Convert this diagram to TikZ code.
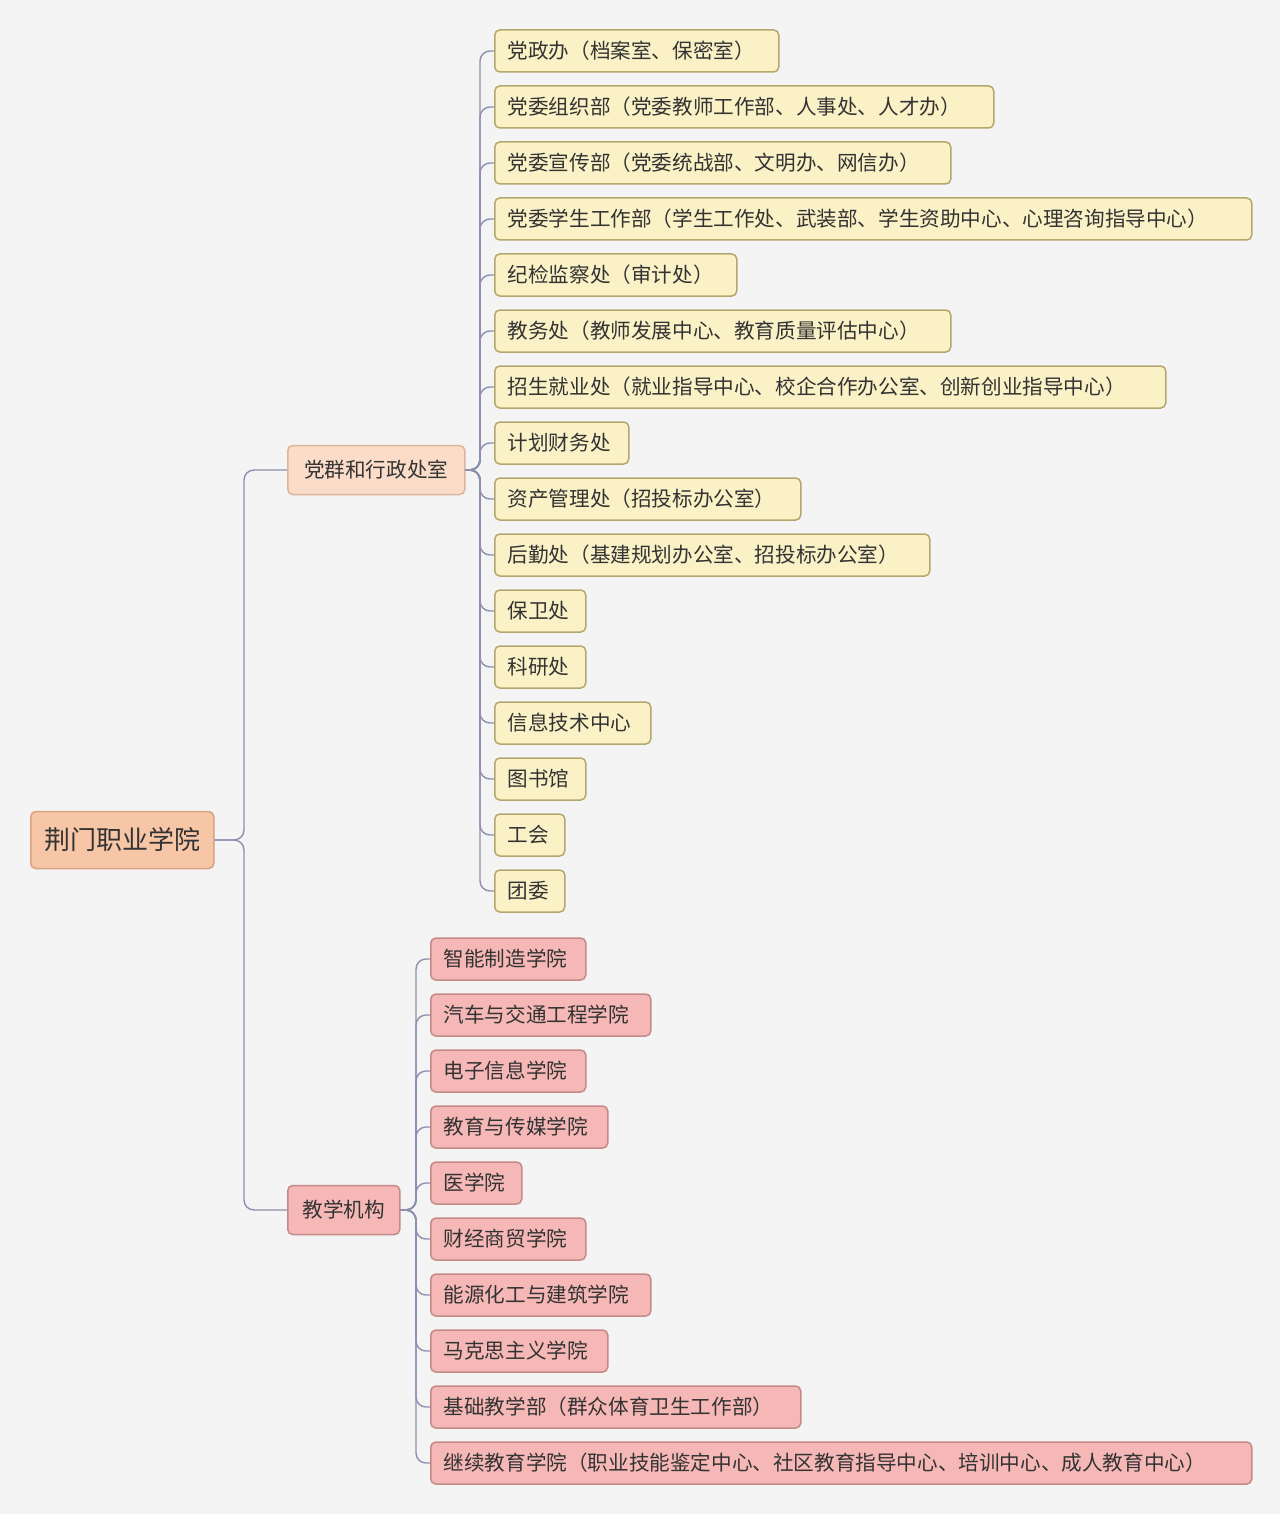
\documentclass[tikz,border=0pt]{standalone}
\usepackage{fontspec}
\setmainfont{Noto Sans CJK SC}
\definecolor{bg}{HTML}{F4F4F4}
\definecolor{yfill}{HTML}{FBF1C6}
\definecolor{ydraw}{HTML}{B5A66E}
\definecolor{pfill}{HTML}{F5B8B6}
\definecolor{pdraw}{HTML}{C48A88}
\definecolor{rfill}{HTML}{F7C6A6}
\definecolor{rdraw}{HTML}{D9A283}
\definecolor{ofill}{HTML}{FADCC8}
\definecolor{odraw}{HTML}{DDB59C}
\definecolor{conn}{HTML}{8C90AE}
\definecolor{txt}{HTML}{333333}
\tikzset{
  base/.style={rounded corners=2.5pt, line width=0.75pt, minimum height=21pt, inner ysep=0pt, inner xsep=6.5pt, anchor=west, align=left, font=\fontsize{10.3}{12}\selectfont, text=txt},
  ybox/.style={base, fill=yfill, draw=ydraw},
  pbox/.style={base, fill=pfill, draw=pdraw},
  link/.style={draw=conn, line width=0.7pt, rounded corners=5pt}
}
\begin{document}
\begin{tikzpicture}[x=0.5pt,y=-0.5pt]
\fill[bg] (0,0) rectangle (1280,1514);
\useasboundingbox (0,0) rectangle (1280,1514);
\node[base, fill=rfill, draw=rdraw, minimum width=91.5pt, minimum height=28.5pt, align=center, font=\fontsize{13}{15}\selectfont] (root) at (30,840) {荆门职业学院};
\node[base, fill=ofill, draw=odraw, minimum width=88.5pt, minimum height=24.5pt, align=center] (dq) at (287,470) {党群和行政处室};
\node[base, fill=pfill, draw=pdraw, minimum width=56pt, minimum height=24.5pt, align=center] (jx) at (287,1210) {教学机构};
\draw[link] (root.east) -- (244,840) -- (244,470) -- (dq.west);
\draw[link] (root.east) -- (244,840) -- (244,1210) -- (jx.west);
\foreach \i/\y/\r/\t in {1/51/778/党政办（档案室、保密室）,2/107/993/党委组织部（党委教师工作部、人事处、人才办）,3/163/950/党委宣传部（党委统战部、文明办、网信办）,4/219/1251/党委学生工作部（学生工作处、武装部、学生资助中心、心理咨询指导中心）,5/275/736/纪检监察处（审计处）,6/331/950/教务处（教师发展中心、教育质量评估中心）,7/387/1165/招生就业处（就业指导中心、校企合作办公室、创新创业指导中心）,8/443/628/计划财务处,9/499/800/资产管理处（招投标办公室）,10/555/929/后勤处（基建规划办公室、招投标办公室）,11/611/585/保卫处,12/667/585/科研处,13/723/650/信息技术中心,14/779/585/图书馆,15/835/564/工会,16/891/564/团委}{
  \pgfmathsetmacro\w{(\r-494-26)*0.5}
  \node[ybox, text width=\w pt] (y\i) at (494,\y) {\t};
  \draw[link] (dq.east) -- (480,470) -- (480,\y) -- (y\i.west);
}
\foreach \i/\y/\r/\t in {1/959/585/智能制造学院,2/1015/650/汽车与交通工程学院,3/1071/585/电子信息学院,4/1127/607/教育与传媒学院,5/1183/521/医学院,6/1239/585/财经商贸学院,7/1295/650/能源化工与建筑学院,8/1351/607/马克思主义学院,9/1407/800/基础教学部（群众体育卫生工作部）,10/1463/1251/继续教育学院（职业技能鉴定中心、社区教育指导中心、培训中心、成人教育中心）}{
  \pgfmathsetmacro\w{(\r-430-26)*0.5}
  \node[pbox, text width=\w pt] (p\i) at (430,\y) {\t};
  \draw[link] (jx.east) -- (416,1210) -- (416,\y) -- (p\i.west);
}
\end{tikzpicture}
\end{document}
